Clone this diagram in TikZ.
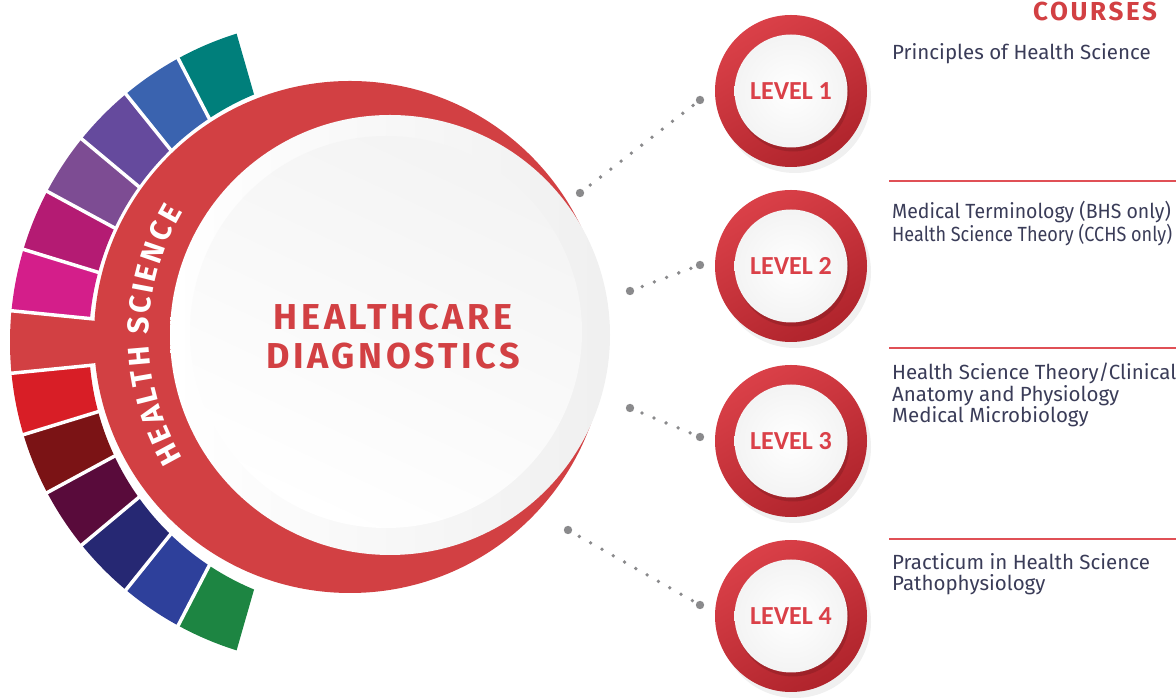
\documentclass[tikz,border=0pt]{standalone}
\usepackage{fontspec}
\setmainfont{Carlito}
\newfontfamily\headfont{Fira Sans}[LetterSpace=10]
\newfontfamily\coursefont{Fira Sans}
\usepackage{tikz}
\usetikzlibrary{shadows, calc}

\definecolor{hsred}{RGB}{210,64,67}
\definecolor{lvlred}{RGB}{218,64,72}
\definecolor{lvldark}{RGB}{176,36,44}
\definecolor{coursetxt}{RGB}{58,60,88}
\definecolor{rulered}{RGB}{224,80,86}
\definecolor{dotgray}{RGB}{138,138,140}
% ring colours, top to bottom
\definecolor{ringteal}{RGB}{0,127,123}
\definecolor{ringblue}{RGB}{58,99,175}
\definecolor{ringpurple}{RGB}{101,74,157}
\definecolor{ringviolet}{RGB}{125,76,147}
\definecolor{ringmagenta}{RGB}{180,27,115}
\definecolor{ringpink}{RGB}{212,30,138}
\definecolor{ringred}{RGB}{216,30,38}
\definecolor{ringdarkred}{RGB}{123,19,21}
\definecolor{ringmaroon}{RGB}{89,11,59}
\definecolor{ringnavy}{RGB}{38,40,115}
\definecolor{ringroyal}{RGB}{46,64,155}
\definecolor{ringgreen}{RGB}{29,133,66}

\begin{document}
\begin{tikzpicture}[x=1pt, y=1pt,
  lvlring/.style={circle, minimum size=152pt, inner sep=0pt,
    drop shadow={shadow xshift=4pt, shadow yshift=-6pt, opacity=.12},
    top color=lvlred, bottom color=lvldark, shading angle=30},
  lvlface/.style={circle, minimum size=113pt, inner sep=0pt,
    drop shadow={shadow xshift=2pt, shadow yshift=-4pt, opacity=.3, fill=lvldark!60!black},
    inner color=white, outer color=gray!9,
    text=lvlred, font=\bfseries\fontsize{26}{26}\selectfont},
  bandletter/.style={anchor=base, inner sep=0pt, text=white,
    font=\coursefont\bfseries\fontsize{30}{30}\selectfont},
  dots/.style={dotgray, line width=3.8pt, line cap=round, dash pattern=on 0pt off 13pt},
  course/.style={anchor=north west, align=left, inner sep=0pt, text=coursetxt,
    font=\coursefont\fontsize{20.5}{21.5}\selectfont},
  rule/.style={rulered, line width=2.4pt}]
\useasboundingbox (0,0) rectangle (1176,698);

\coordinate (C) at (325,356);   % centre of the rays
\coordinate (O1) at (333,356);  % outer edge of ring
\coordinate (O2) at (357,356);  % inner edge of ring
\coordinate (A) at (350,361);   % red crescent
\coordinate (B) at (390,363);   % white disk

% coloured ring
\foreach \k/\col in {0/ringteal,1/ringblue,2/ringpurple,3/ringviolet,4/ringmagenta,5/ringpink,
    7/ringred,8/ringdarkred,9/ringmaroon,10/ringnavy,11/ringroyal,12/ringgreen}{
  \pgfmathsetmacro{\aa}{106+11.385*\k}
  \pgfmathsetmacro{\ab}{\aa+11.385}
  \begin{scope}
    \clip (C) -- ++(\aa:420) arc[start angle=\aa, end angle=\ab, radius=420] -- cycle;
    \fill[\col, even odd rule] (O1) circle[radius=323] (O2) circle[radius=268];
  \end{scope}
}
% red tab joined to the crescent
\begin{scope}
  \clip (C) -- ++(174.31:420) arc[start angle=174.31, end angle=185.69, radius=420] -- cycle;
  \fill[hsred] (O1) circle[radius=323];
\end{scope}
\foreach \k in {1,...,12}{
  \pgfmathsetmacro{\aa}{106+11.385*\k}
  \draw[white, line width=3.5pt] (C) ++(\aa:150) -- ++(\aa:200);
}

% crescent and disk
\fill[hsred] (A) circle[radius=256];
\shade[left color=white, right color=gray!12] (B) circle[radius=220];
\shade[top color=gray!9, bottom color=white, shading angle=-25] (B) ++(-4,3) circle[radius=196];

% HEALTH SCIENCE round the band
\foreach \ch/\ang [count=\i] in {H/208.43,E/203.53,A/198.76,L/194.17,T/189.90,H/184.99,
    S/177.74,C/173.08,I/169.39,E/165.87,N/160.89,C/155.73,E/151.10}{
  \node[bandletter, rotate=\ang-90] (hs\i) at ($(B)+(\ang:241)$) {\ch};
}

\node[text=hsred, align=center, font=\headfont\bfseries\fontsize{36}{39}\selectfont]
  (title) at (393,361) {HEALTHCARE\\DIAGNOSTICS};

% levels
\node[lvlring] (lvl1) at (791,607) {};
\node[lvlface] (face1) at (lvl1) {LEVEL 1};
\node[lvlring] (lvl2) at (791,432) {};
\node[lvlface] (face2) at (lvl2) {LEVEL 2};
\node[lvlring] (lvl3) at (791,257) {};
\node[lvlface] (face3) at (lvl3) {LEVEL 3};
\node[lvlring] (lvl4) at (791,82) {};
\node[lvlface] (face4) at (lvl4) {LEVEL 4};

% dotted links
\coordinate (d1a) at (580,505); \coordinate (d1b) at (700,598);
\coordinate (d2a) at (630,407); \coordinate (d2b) at (700,433);
\coordinate (d3a) at (630,290); \coordinate (d3b) at (700,261);
\coordinate (d4a) at (568,168); \coordinate (d4b) at (700,93);
\draw[dots] (d1a) -- (d1b);
\draw[dots] (d2a) -- (d2b);
\draw[dots] (d3a) -- (d3b);
\draw[dots] (d4a) -- (d4b);
\fill[dotgray] (d1a) circle[radius=4.2] (d1b) circle[radius=4.2] (d2a) circle[radius=4.2] (d2b) circle[radius=4.2]
  (d3a) circle[radius=4.2] (d3b) circle[radius=4.2] (d4a) circle[radius=4.2] (d4b) circle[radius=4.2];

% courses
\node[text=hsred, font=\headfont\bfseries\fontsize{26}{26}\selectfont] (courses) at (1095,686) {COURSES};
\node[course] (c1) at (892,655) {Principles of Health Science};
\draw[rule] (889,517) -- (1176,517);
\node[course] (c2) at (892,497) {\scalebox{0.95}[1]{Medical Terminology (BHS only)}\\
  \scalebox{0.88}[1]{Health Science Theory (CCHS only)}};
\draw[rule] (889,350) -- (1176,350);
\node[course] (c3) at (892,335) {Health Science Theory/Clinical\\Anatomy and Physiology\\Medical Microbiology};
\draw[rule] (889,159) -- (1176,159);
\node[course] (c4) at (892,145) {Practicum in Health Science\\Pathophysiology};
\end{tikzpicture}
\end{document}
